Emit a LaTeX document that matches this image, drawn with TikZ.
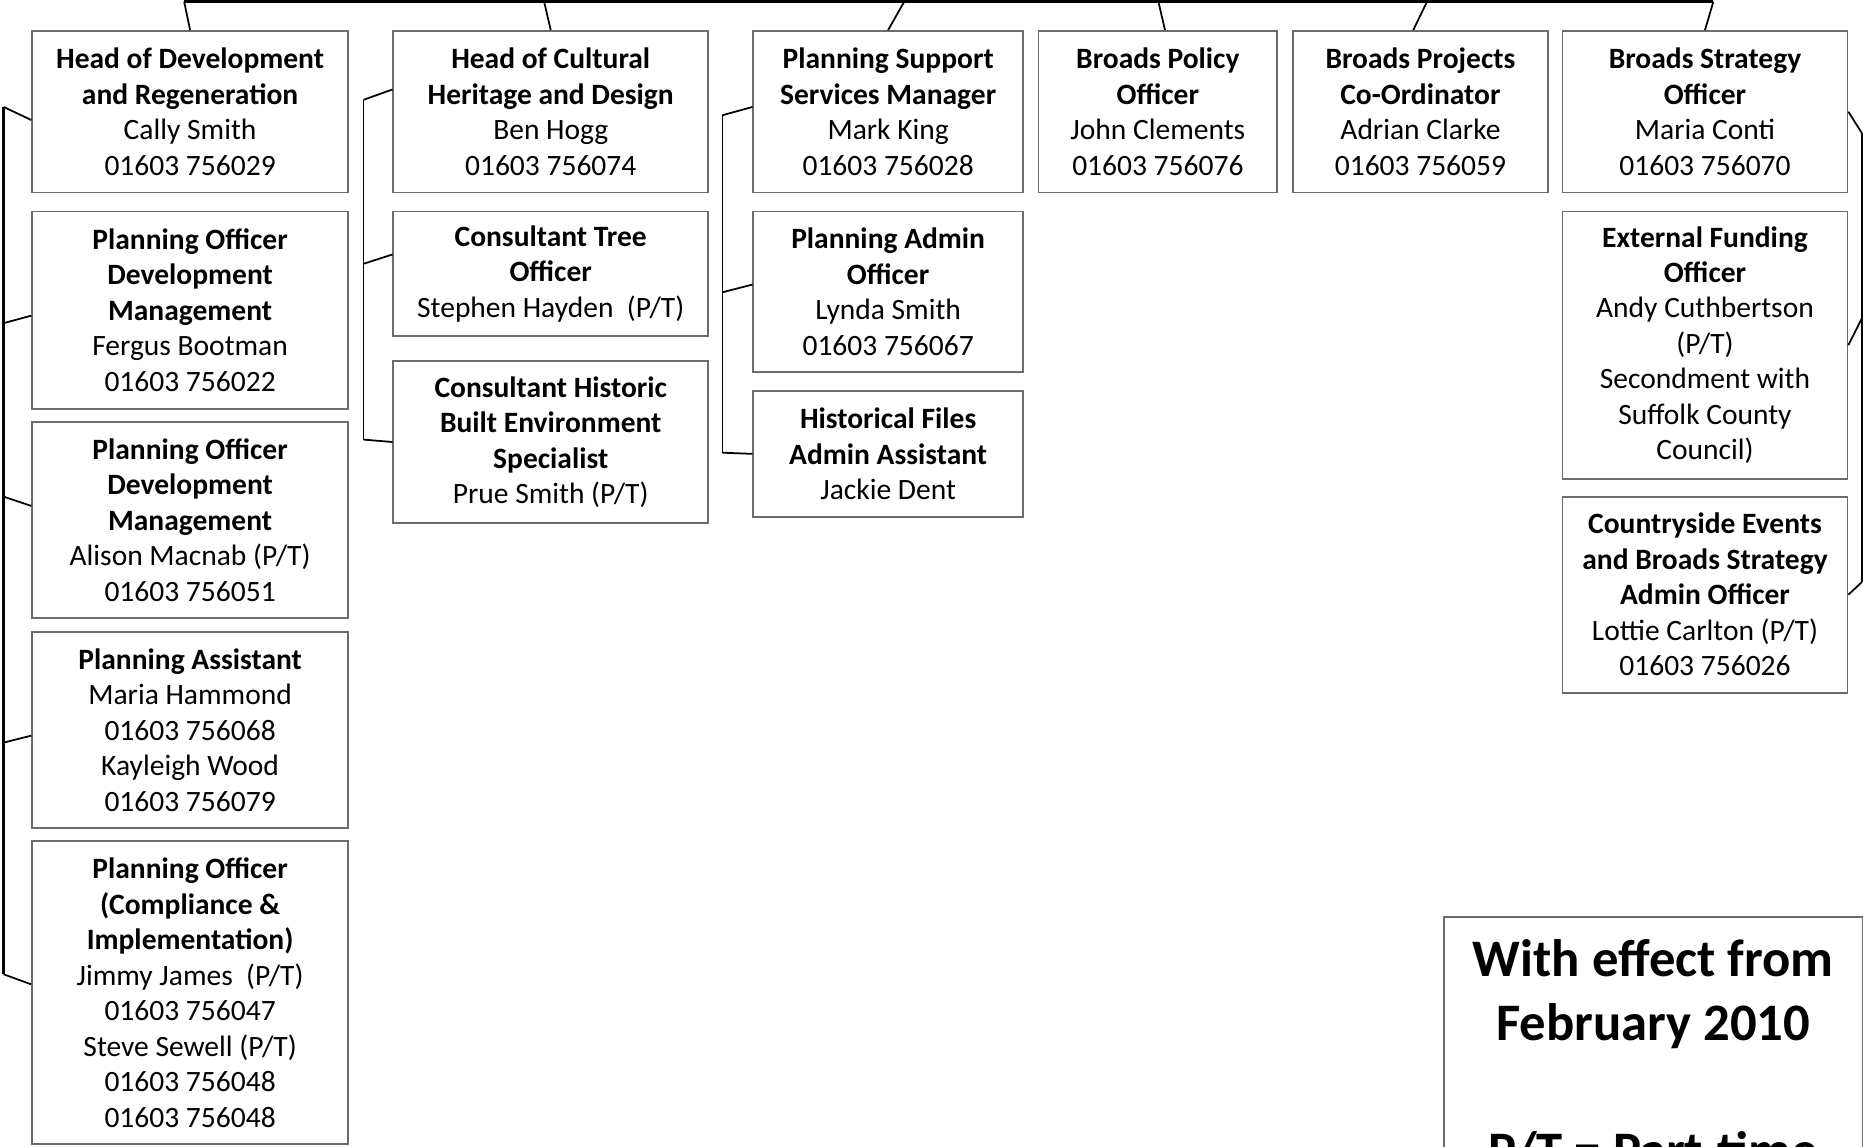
\documentclass[tikz,border=0pt]{standalone}
\usepackage{fontspec}
\setmainfont{Carlito}
\begin{document}
\begin{tikzpicture}[x=0.01188cm, y=-0.01188cm,
	post/.style={draw=gray!85!black, line width=0.5pt, align=center, inner sep=1pt, font=\fontsize{8.4}{10.1}\selectfont},
	link/.style={black, line width=0.5pt},
	trunk/.style={black, line width=0.8pt}]
	\useasboundingbox (0,0) rectangle (1568,965);
	\clip (0,0) rectangle (1568,965);

	% development and regeneration
	\node[post, minimum width=3.160cm, minimum height=1.616cm] (devhead) at (160,94)
		{\textbf{Head of Development}\\\textbf{and Regeneration}\\Cally Smith\\01603 756029};
	\node[post, minimum width=3.160cm, minimum height=1.972cm] (dmone) at (160,261)
		{\textbf{Planning Officer}\\\textbf{Development}\\\textbf{Management}\\Fergus Bootman\\01603 756022};
	\node[post, minimum width=3.160cm, minimum height=1.960cm] (dmtwo) at (160,437.5)
		{\textbf{Planning Officer}\\\textbf{Development}\\\textbf{Management}\\Alison Macnab (P/T)\\01603 756051};
	\node[post, minimum width=3.160cm, minimum height=1.960cm] (assist) at (160,614.5)
		{\textbf{Planning Assistant}\\Maria Hammond\\01603 756068\\Kayleigh Wood\\01603 756079};
	\node[post, minimum width=3.160cm, minimum height=3.029cm] (comply) at (160,835.5)
		{\textbf{Planning Officer}\\\textbf{(Compliance \&}\\\textbf{Implementation)}\\Jimmy James~~(P/T)\\01603 756047\\Steve Sewell (P/T)\\01603 756048\\01603 756048};

	% cultural heritage
	\node[post, minimum width=3.148cm, minimum height=1.616cm] (herhead) at (463.5,94)
		{\textbf{Head of Cultural}\\\textbf{Heritage and Design}\\Ben Hogg\\01603 756074};
	\node[post, minimum width=3.148cm, minimum height=1.247cm] (tree) at (463.5,230.5)
		{\textbf{Consultant Tree}\\\textbf{Officer}\\Stephen Hayden~~(P/T)};
	\node[post, minimum width=3.148cm, minimum height=1.616cm] (built) at (463.5,372)
		{\textbf{Consultant Historic}\\\textbf{Built Environment}\\\textbf{Specialist}\\Prue Smith (P/T)};

	% planning support
	\node[post, minimum width=2.697cm, minimum height=1.616cm] (suphead) at (747.5,94)
		{\textbf{Planning Support}\\\textbf{Services Manager}\\Mark King\\01603 756028};
	\node[post, minimum width=2.697cm, minimum height=1.604cm] (admin) at (747.5,245.5)
		{\textbf{Planning Admin}\\\textbf{Officer}\\Lynda Smith\\01603 756067};
	\node[post, minimum width=2.697cm, minimum height=1.259cm] (files) at (747.5,382)
		{\textbf{Historical Files}\\\textbf{Admin Assistant}\\Jackie Dent};

	% broads
	\node[post, minimum width=2.388cm, minimum height=1.616cm] (policy) at (974.5,94)
		{\textbf{Broads Policy}\\\textbf{Officer}\\John Clements\\01603 756076};
	\node[post, minimum width=2.554cm, minimum height=1.616cm] (projects) at (1195.5,94)
		{\textbf{Broads Projects}\\\textbf{Co-Ordinator}\\Adrian Clarke\\01603 756059};
	\node[post, minimum width=2.851cm, minimum height=1.616cm] (strategy) at (1435,94)
		{\textbf{Broads Strategy}\\\textbf{Officer}\\Maria Conti\\01603 756070};
	\node[post, minimum width=2.851cm, minimum height=2.673cm] (funding) at (1435,290.5)
		{\textbf{External Funding}\\\textbf{Officer}\\Andy Cuthbertson\\(P/T)\\Secondment with\\Suffolk County\\Council)};
	\node[post, minimum width=2.851cm, minimum height=1.960cm] (events) at (1435,500.5)
		{\textbf{Countryside Events}\\\textbf{and Broads Strategy}\\\textbf{Admin Officer}\\Lottie Carlton (P/T)\\01603 756026};

	% key
	\node[post, anchor=north, minimum width=4.194cm, inner ysep=6.5pt,
		font=\fontsize{15}{18.2}\selectfont\bfseries] (key) at (1391.5,771)
		{With effect from\\February 2010\\\strut\\P/T = Part-time};

	% top line
	\coordinate (ta) at (155,1.5);
	\coordinate (tb) at (458,1.5);
	\coordinate (tc) at (761,1.5);
	\coordinate (td) at (975,1.5);
	\coordinate (te) at (1201,1.5);
	\coordinate (tf) at (1442,1.5);
	\draw[trunk] (ta) -- (tf);
	\foreach \t/\b in {ta/devhead.north, tb/herhead.north, tc/suphead.north,
		td/policy.85, te/projects.95, tf/strategy.north}
	\draw[link] (\t) -- (\b);

	% side lines
	\coordinate (la) at (3,90);
	\coordinate (lb) at (3,272);
	\coordinate (lc) at (3,418);
	\coordinate (ld) at (3,625);
	\coordinate (le) at (3,820);
	\draw[trunk] (la) -- (le);
	\coordinate (ma) at (306,84);
	\coordinate (mb) at (306,222);
	\coordinate (mc) at (306,370);
	\draw[link] (ma) -- (mc);
	\coordinate (na) at (608,97);
	\coordinate (nb) at (608,246);
	\coordinate (nc) at (608,381);
	\draw[link] (na) -- (nc);
	\coordinate (ra) at (1567,112);
	\coordinate (rb) at (1567,268);
	\coordinate (rc) at (1567,490);
	\draw[link] (ra) -- (rc);

	\foreach \c/\b in {la/devhead.183, lb/dmone.182, lc/dmtwo.175, ld/assist.182, le/comply.177,
		ma/herhead.172, mb/tree.173, mc/built.west,
		na/suphead.178, nb/admin.177, nc/files.west,
		ra/strategy.east, rb/funding.east, rc/events.east}
	\draw[link] (\c) -- (\b);
\end{tikzpicture}
\end{document}
